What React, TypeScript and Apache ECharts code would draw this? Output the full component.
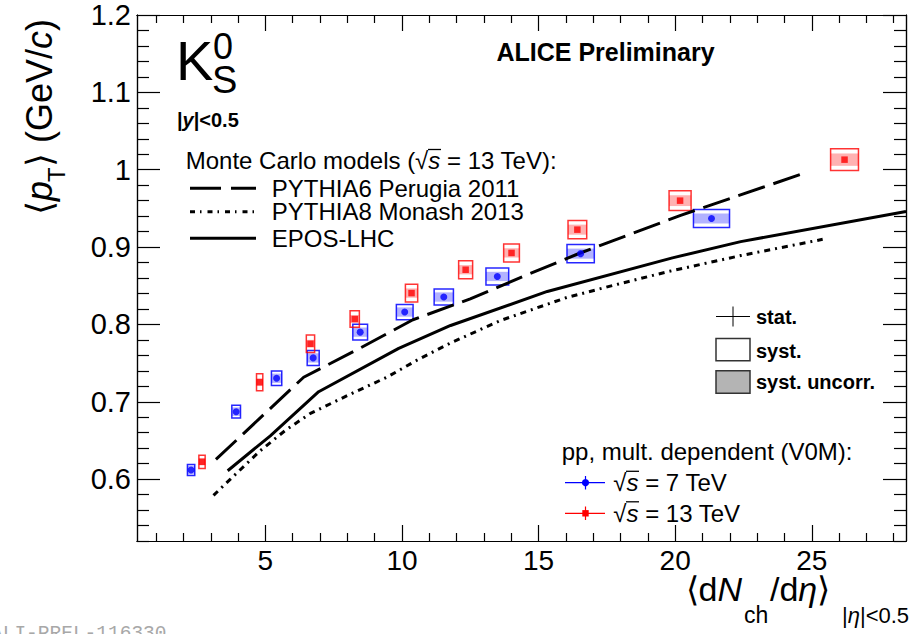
import React, { useEffect, useRef } from 'react';
import * as echarts from 'echarts';

const FONT = 'Liberation Sans';

// ---- axis ranges / ticks ----
const X_MIN = 0.3;
const X_MAX = 28.45;
const Y_MIN = 0.52;
const Y_MAX = 1.2;
const xMajorTicks = [5, 10, 15, 20, 25];
const xMinorTicks = [1, 2, 3, 4, 6, 7, 8, 9, 11, 12, 13, 14, 16, 17, 18, 19, 21, 22, 23, 24, 26, 27, 28];
const yMajorTicks = [0.6, 0.7, 0.8, 0.9, 1.0, 1.1, 1.2];
const yMinorTicks = [0.52, 0.54, 0.56, 0.58, 0.62, 0.64, 0.66, 0.68, 0.72, 0.74, 0.76, 0.78, 0.82, 0.84, 0.86, 0.88,
  0.92, 0.94, 0.96, 0.98, 1.02, 1.04, 1.06, 1.08, 1.12, 1.14, 1.16, 1.18];

// ---- data: pp 7 TeV (blue) ----
const blueX = [2.28, 3.93, 5.41, 6.75, 8.47, 10.10, 11.53, 13.49, 16.54, 21.33];
const blueY = [0.6117, 0.6872, 0.7304, 0.7567, 0.790, 0.816, 0.8354, 0.862, 0.8915, 0.937];
const blueSystDx = [0.134, 0.159, 0.189, 0.22, 0.27, 0.306, 0.353, 0.416, 0.50, 0.66];
const blueSystDy = [0.0071, 0.0082, 0.0095, 0.0097, 0.0102, 0.0099, 0.0104, 0.011, 0.0117, 0.0117];
const blueUncorrDy = [0.0055, 0.0055, 0.006, 0.006, 0.006, 0.006, 0.006, 0.006, 0.0065, 0.0065];

// ---- data: pp 13 TeV (red) ----
const redX = [2.68, 4.79, 6.65, 8.27, 10.35, 12.33, 14.01, 16.42, 20.18, 26.2];
const redY = [0.6224, 0.7253, 0.775, 0.807, 0.8405, 0.8707, 0.8924, 0.9225, 0.960, 1.013];
const redSystDx = [0.115, 0.115, 0.152, 0.17, 0.225, 0.256, 0.288, 0.342, 0.403, 0.51];
const redSystDy = [0.0086, 0.011, 0.0112, 0.0108, 0.0115, 0.0117, 0.0117, 0.0119, 0.0128, 0.014];
const redUncorrDy = [0.0045, 0.005, 0.005, 0.005, 0.006, 0.006, 0.006, 0.0065, 0.007, 0.008];

// ---- MC models ----
const pythia6X = [3.19, 6.40, 8.50, 10.40, 12.50, 14.50, 16.50, 20.20, 24.80];
const pythia6Y = [0.6255, 0.7317, 0.770, 0.806, 0.833, 0.863, 0.892, 0.941, 0.9964];
const monashX = [3.10, 3.72, 4.82, 5.73, 6.65, 8.00, 9.46, 10.56, 11.78, 13.60, 16.05, 17.90, 19.71, 22.40, 25.40];
const monashY = [0.579, 0.600, 0.637, 0.663, 0.685, 0.708, 0.732, 0.754, 0.776, 0.805, 0.835, 0.852, 0.868, 0.889, 0.910];
const eposX = [3.62, 5.18, 6.95, 9.88, 11.78, 15.32, 19.90, 22.40, 28.45];
const eposY = [0.6108, 0.656, 0.713, 0.769, 0.7986, 0.8426, 0.886, 0.907, 0.946];

const DASH_P6 = [28, 9];
const DASH_P8 = [6, 5, 2, 5];

function pairs(xs: number[], ys: number[]) {
  return xs.map((x, i) => [x, ys[i]]);
}
function boxes(xs: number[], ys: number[], dxs: number[], dys: number[]) {
  return xs.map((x, i) => [x, ys[i], dxs[i], dys[i]]);
}

function boxSeries(data: number[][], fill: string, stroke: string, z: number) {
  return {
    type: 'custom',
    data,
    z,
    encode: { x: 0, y: 1 },
    clip: true,
    silent: true,
    renderItem: (_p: any, api: any) => {
      const x = api.value(0), y = api.value(1), dx = api.value(2), dy = api.value(3);
      const a = api.coord([x - dx, y + dy]);
      const b = api.coord([x + dx, y - dy]);
      return {
        type: 'rect',
        shape: { x: a[0], y: a[1], width: b[0] - a[0], height: b[1] - a[1] },
        style: { fill, stroke, lineWidth: stroke === 'none' ? 0 : 1.5 },
      };
    },
  };
}

function txt(text: string, x: number, y: number, fontSize: number, extra: any = {}, rich?: any) {
  return {
    type: 'text',
    x,
    y,
    silent: true,
    style: {
      text,
      fontSize,
      fontFamily: FONT,
      fill: '#000',
      align: 'left',
      verticalAlign: 'middle',
      ...extra,
      ...(rich ? { rich } : {}),
    },
  };
}
function italic(fs: number, bold = false, lh?: number) {
  return { fontStyle: 'italic', fontSize: fs, fontFamily: FONT, fontWeight: bold ? 'bold' : 'normal', fill: '#000', ...(lh ? { lineHeight: lh } : {}) };
}
function plain(fs: number, lh?: number) {
  return { fontSize: fs, fontFamily: FONT, fill: '#000', ...(lh ? { lineHeight: lh } : {}) };
}
function hline(x1: number, x2: number, y: number, stroke: string, lineWidth: number, lineDash?: number[]) {
  return {
    type: 'line', silent: true,
    shape: { x1, y1: y, x2, y2: y },
    style: { stroke, lineWidth, ...(lineDash ? { lineDash } : {}) },
  };
}

function axisBase(kind: 'x' | 'y', position: string, major: boolean, labels: boolean) {
  const ticks = kind === 'x' ? (major ? xMajorTicks : xMinorTicks) : (major ? yMajorTicks : yMinorTicks);
  const len = kind === 'x' ? (major ? 16 : 8) : (major ? 23 : 12);
  return {
    type: 'value',
    position,
    min: kind === 'x' ? X_MIN : Y_MIN,
    max: kind === 'x' ? X_MAX : Y_MAX,
    axisLine: { show: true, onZero: false, lineStyle: { color: '#000', width: 1.2 } },
    splitLine: { show: false },
    minorTick: { show: false },
    axisTick: { show: true, inside: true, length: len, customValues: ticks, lineStyle: { color: '#000', width: 1.2 } },
    axisLabel: labels
      ? {
          show: true,
          customValues: ticks,
          color: '#000',
          fontSize: kind === 'x' ? 28 : 29,
          fontFamily: FONT,
          margin: kind === 'x' ? 5 : 6,
        }
      : { show: false },
  };
}

export default function App() {
  const ref = useRef<HTMLDivElement>(null);
  useEffect(() => {
    if (!ref.current) return;
    const chart = echarts.init(ref.current, undefined, { renderer: 'svg' });

    const sq = (fs: number, lh?: number) => ({ i: italic(fs, false, lh), n: plain(fs, lh) });

    const option: any = {
      animation: false,
      textStyle: { fontFamily: FONT },
      grid: { left: 137, right: 5, top: 15, bottom: 93, containLabel: false, outerBoundsMode: 'none' },
      xAxis: [
        axisBase('x', 'bottom', true, true),
        axisBase('x', 'bottom', false, false),
        axisBase('x', 'top', true, false),
        axisBase('x', 'top', false, false),
      ],
      yAxis: [
        axisBase('y', 'left', true, true),
        axisBase('y', 'left', false, false),
        axisBase('y', 'right', true, false),
        axisBase('y', 'right', false, false),
      ],
      series: [
        boxSeries(boxes(blueX, blueY, blueSystDx, blueUncorrDy), 'rgba(0,0,255,0.3)', 'none', 2),
        boxSeries(boxes(redX, redY, redSystDx, redUncorrDy), 'rgba(255,0,0,0.3)', 'none', 2),
        boxSeries(boxes(blueX, blueY, blueSystDx, blueSystDy), 'none', 'rgba(0,0,255,0.85)', 3),
        boxSeries(boxes(redX, redY, redSystDx, redSystDy), 'none', 'rgba(255,0,0,0.8)', 3),
        {
          type: 'line', data: pairs(pythia6X, pythia6Y), symbol: 'none', z: 4, silent: true,
          lineStyle: { color: '#000', width: 3, type: DASH_P6 },
        },
        {
          type: 'line', data: pairs(monashX, monashY), symbol: 'none', z: 4, silent: true,
          lineStyle: { color: '#000', width: 3, type: DASH_P8 },
        },
        {
          type: 'line', data: pairs(eposX, eposY), symbol: 'none', z: 4, silent: true,
          lineStyle: { color: '#000', width: 3, type: 'solid' },
        },
        {
          type: 'scatter', data: pairs(blueX, blueY), symbol: 'circle', symbolSize: 7, z: 5, silent: true,
          itemStyle: { color: '#0000ff' },
        },
        {
          type: 'scatter', data: pairs(redX, redY), symbol: 'rect', symbolSize: 6.5, z: 5, silent: true,
          itemStyle: { color: '#ff0000' },
        },
      ],
      graphic: [
        // Y axis title (rotated)
        {
          type: 'group', x: 52, y: 215, rotation: Math.PI / 2, silent: true,
          children: [
            txt('⟨{i|p}', 0, -12.5, 36, {}, { i: italic(36) }),
            txt('T', 33, 4.5, 24),
            txt('⟩ (GeV/{i|c})', 48, -12.5, 36, {}, { i: italic(36) }),
          ],
        },
        // X axis title
        txt('⟨d{i|N}', 742, 589, 34, { align: 'right', lineHeight: 30 }, { i: italic(34, false, 30) }),
        txt('ch', 744, 615, 23, { lineHeight: 18 }),
        txt('/d{i|η}⟩', 770, 589, 34, { lineHeight: 30 }, { i: italic(34, false, 30) }),
        txt('|{i|η}|<0.5', 842, 615, 22, { lineHeight: 20 }, { i: italic(22, false, 20) }),
        // particle label
        txt('K', 176, 60, 56, { lineHeight: 44 }),
        txt('0', 213, 46.5, 36, { lineHeight: 26 }),
        txt('S', 212, 80, 38, { lineHeight: 28 }),
        txt('|{i|y}|<0.5', 177, 119.5, 20, { fontWeight: 'bold' }, { i: italic(20, true) }),
        // ALICE
        txt('ALICE Preliminary', 605.5, 52, 25, { fontWeight: 'bold', align: 'center' }),
        // MC legend
        txt('Monte Carlo models ({n|√}{i|s} = 13 TeV):', 185.7, 160.7, 24, { lineHeight: 22 }, sq(24, 22)),
        hline(428, 441, 149.5, '#000', 1.3),
        hline(190, 256, 188.3, '#000', 3, [31, 10]),
        hline(190, 256, 211.7, '#000', 3, [5, 5, 1.5, 6]),
        hline(190, 256, 238.3, '#000', 3),
        txt('PYTHIA6 Perugia 2011', 271.7, 188.3, 24, { lineHeight: 22 }),
        txt('PYTHIA8 Monash 2013', 271.7, 211.7, 24, { lineHeight: 22 }),
        txt('EPOS-LHC', 271.7, 238.3, 24, { lineHeight: 22 }),
        // stat/syst legend
        hline(716, 750, 316.5, '#000', 1),
        { type: 'line', silent: true, shape: { x1: 733, y1: 306.5, x2: 733, y2: 326.5 }, style: { stroke: '#000', lineWidth: 1 } },
        { type: 'rect', silent: true, shape: { x: 716, y: 338.5, width: 34, height: 22.3 }, style: { fill: '#fff', stroke: '#333', lineWidth: 1.5 } },
        { type: 'rect', silent: true, shape: { x: 716, y: 370.8, width: 34, height: 22.5 }, style: { fill: '#b4b4b4', stroke: '#333', lineWidth: 1.5 } },
        txt('stat.', 756, 316.7, 20, { fontWeight: 'bold' }),
        txt('syst.', 756, 350.7, 20, { fontWeight: 'bold' }),
        txt('syst. uncorr.', 756, 381.7, 20, { fontWeight: 'bold' }),
        // data legend
        txt('pp, mult. dependent (V0M):', 561.7, 451.7, 24, { lineHeight: 24 }),
        hline(565, 605, 482.7, '#0000ff', 1.2),
        { type: 'line', silent: true, shape: { x1: 585.5, y1: 476, x2: 585.5, y2: 489.5 }, style: { stroke: '#0000ff', lineWidth: 1.2 } },
        { type: 'circle', silent: true, shape: { cx: 585.5, cy: 482.7, r: 3.6 }, style: { fill: '#0000ff' } },
        hline(565, 605, 513.3, '#ff0000', 1.2),
        { type: 'line', silent: true, shape: { x1: 585.5, y1: 506.5, x2: 585.5, y2: 520 }, style: { stroke: '#ff0000', lineWidth: 1.2 } },
        { type: 'rect', silent: true, shape: { x: 582.3, y: 510.1, width: 6.4, height: 6.4 }, style: { fill: '#ff0000' } },
        txt('{n|√}{i|s} = 7 TeV', 613.3, 482.5, 24, { lineHeight: 24 }, sq(24, 24)),
        hline(626, 639, 471.3, '#000', 1.3),
        txt('{n|√}{i|s} = 13 TeV', 613.3, 513, 24, { lineHeight: 24 }, sq(24, 24)),
        hline(626, 639, 501.8, '#000', 1.3),
        // preliminary id
        txt('ALI-PREL-116330', -9, 634, 19.5, { fill: '#a8a8a8', fontFamily: 'Liberation Mono' }),
      ],
    };
    chart.setOption(option);
    return () => chart.dispose();
  }, []);
  return <div ref={ref} style={{ position: 'absolute', left: 0, top: 0, width: 911, height: 634, background: '#fff' }} />;
}
